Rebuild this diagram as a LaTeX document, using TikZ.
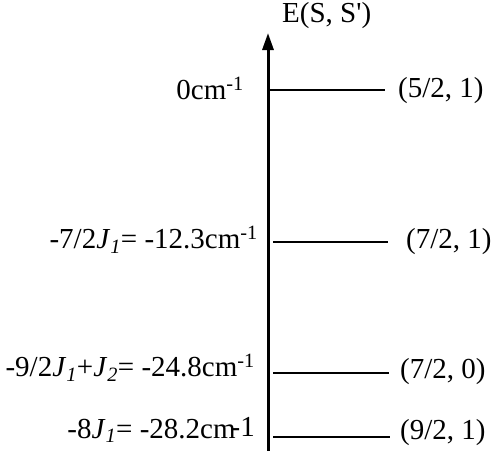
\documentclass[tikz,border=0pt]{standalone}
\usepackage{fontspec}
\setmainfont{Liberation Serif}
\usepackage{textcomp}
\usetikzlibrary{arrows.meta}

% italic coupling constant J with italic subscript
\newcommand{\Jc}[1]{\textit{J}\textsubscript{\textit{#1}}}
\newcommand{\wn}{cm\textsuperscript{-1}}

\begin{document}
\begin{tikzpicture}[x=1pt, y=-1pt,
  font=\fontsize{29}{33}\selectfont,
  axis/.style={line width=3pt, -{Triangle[length=17pt, width=11pt]}},
  level/.style={line width=2.2pt},
  energy/.style={anchor=east, inner sep=0pt},
  spin/.style={anchor=west, inner sep=0pt}]
\useasboundingbox (0,0) rectangle (498,450);

% Energy axis
\coordinate (base) at (268,452);
\coordinate (top) at (268,33);
\draw[axis] (base) -- (top);
\node[anchor=west, inner sep=0pt] (title) at (282,16) {E(S, S\textquotesingle)};

% Levels
\coordinate (l1a) at (268,90);  \coordinate (l1b) at (385,90);
\coordinate (l2a) at (273,242); \coordinate (l2b) at (388,242);
\coordinate (l3a) at (273,373); \coordinate (l3b) at (389,373);
\coordinate (l4a) at (273,437); \coordinate (l4b) at (390,437);
\draw[level] (l1a) -- (l1b);
\draw[level] (l2a) -- (l2b);
\draw[level] (l3a) -- (l3b);
\draw[level] (l4a) -- (l4b);

% Spin labels (S, S')
\node[spin] (s1) at (398,91)  {(5/2, 1)};
\node[spin] (s2) at (406,242) {(7/2, 1)};
\node[spin] (s3) at (400,372) {(7/2, 0)};
\node[spin] (s4) at (400,433) {(9/2, 1)};

% Energies
\node[energy] (e1) at (244,88)  {0\wn};
\node[energy] (e2) at (258,240) {-7/2\Jc{1}= -12.3\wn};
\node[energy] (e3) at (255,368) {-9/2\Jc{1}+\Jc{2}= -24.8\wn};
\node[energy] (e4) at (255,430) {-8\Jc{1}= -28.2cm\kern-5pt\raisebox{2pt}{-1}};
\end{tikzpicture}
\end{document}
